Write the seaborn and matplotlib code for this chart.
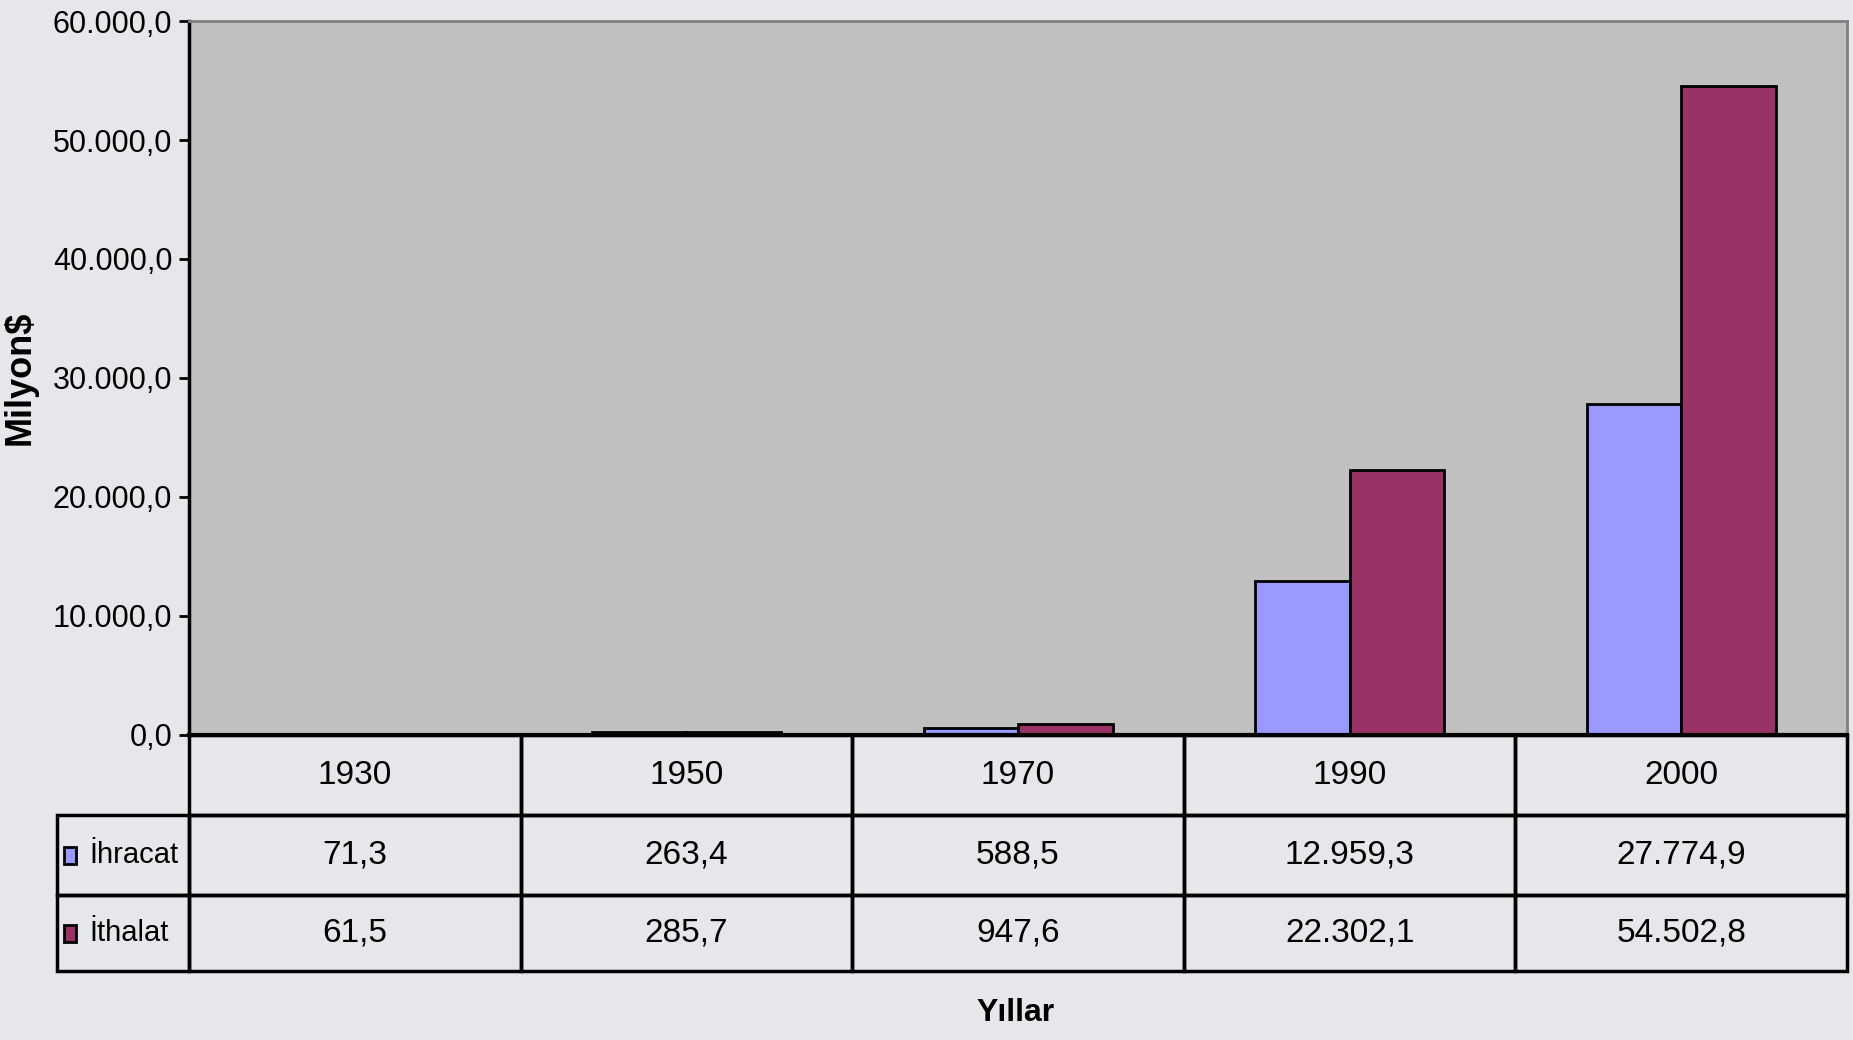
import pandas as pd
import seaborn as sns
import matplotlib.pyplot as plt
from matplotlib.table import Table
from matplotlib.patches import Rectangle
from matplotlib.ticker import FuncFormatter

years = ['1930', '1950', '1970', '1990', '2000']
series = ['İhracat', 'İthalat']
ihracat = [71.3, 263.4, 588.5, 12959.3, 27774.9]
ithalat = [61.5, 285.7, 947.6, 22302.1, 54502.8]
colors = ['#9999ff', '#993366']

df = pd.DataFrame({
    'Yıl': years * 2,
    'Seri': [series[0]] * len(years) + [series[1]] * len(years),
    'Değer': ihracat + ithalat,
})


def tr_fmt(v, pos=None):
    s = f'{v:,.1f}'
    return s.replace(',', 'X').replace('.', ',').replace('X', '.')


sns.set_style('white')
plt.rcParams['font.family'] = ['Liberation Sans', 'DejaVu Sans']
plt.rcParams['text.color'] = 'black'
plt.rcParams['ytick.color'] = 'black'

fig = plt.figure(figsize=(18.53, 10.40), dpi=100, facecolor='#e6e7ea')
ax = fig.add_axes([0.102, 0.2933, 0.8948, 0.6865])
ax.set_facecolor('#c0c0c0')

sns.barplot(data=df, x='Yıl', y='Değer', hue='Seri', order=years, hue_order=series,
            palette=colors, width=0.57, edgecolor='black', linewidth=2,
            saturation=1, legend=False, ax=ax)

ax.set_ylim(0, 60000)
ax.set_xlim(-0.5, len(years) - 0.5)
ax.set_yticks(range(0, 60001, 10000))
ax.yaxis.set_major_formatter(FuncFormatter(tr_fmt))
ax.tick_params(axis='y', direction='out', length=7, width=2, labelsize=22, pad=5, left=True,
               labelcolor='black')
ax.tick_params(axis='x', bottom=False, labelbottom=False)
ax.set_xlabel('')
ax.set_ylabel('Milyon$', fontsize=26, fontweight='bold', color='black')
ax.yaxis.set_label_coords(-0.091, 0.5)

for side in ['top', 'right']:
    ax.spines[side].set_color('#808080')
    ax.spines[side].set_linewidth(2)
ax.spines['left'].set_color('black')
ax.spines['left'].set_linewidth(2.5)
ax.spines['bottom'].set_color('black')
ax.spines['bottom'].set_linewidth(3)

# data table below the axis: column 0 holds the series names
label_w = 132 / 1658
col_w = 1.0 / len(years)
tbl_h = 0.3305
row_hs = [tbl_h * 68 / 200, tbl_h * 68 / 200, tbl_h * 64 / 200]
tbl = Table(ax, bbox=[-label_w, -tbl_h, 1 + label_w, tbl_h])
tbl.add_cell(0, 0, width=label_w, height=row_hs[0], text='', facecolor='none')
tbl[0, 0].visible_edges = ''
for j, y in enumerate(years):
    tbl.add_cell(0, j + 1, width=col_w, height=row_hs[0], text=y, loc='center', facecolor='none')
for i, vals in enumerate([ihracat, ithalat]):
    tbl.add_cell(i + 1, 0, width=label_w, height=row_hs[i + 1], text='', facecolor='none')
    for j, v in enumerate(vals):
        tbl.add_cell(i + 1, j + 1, width=col_w, height=row_hs[i + 1], text=tr_fmt(v),
                     loc='center', facecolor='none')
tbl.auto_set_font_size(False)
for cell in tbl.get_celld().values():
    cell.set_linewidth(2.5)
    cell.set_edgecolor('black')
    cell.get_text().set_fontsize(24)
    cell.get_text().set_color('black')
ax.add_table(tbl)

y_top = -row_hs[0]
for i, (name, col) in enumerate(zip(series, colors)):
    yc = y_top - row_hs[i + 1] / 2
    y_top -= row_hs[i + 1]
    ax.add_patch(Rectangle((-label_w + 0.004, yc - 0.012), 0.0075, 0.024, transform=ax.transAxes,
                           facecolor=col, edgecolor='black', linewidth=2, clip_on=False))
    ax.text(-label_w + 0.0195, yc, name, transform=ax.transAxes, fontsize=21,
            ha='left', va='center')

fig.text(0.548, 0.026, 'Yıllar', fontsize=23, fontweight='bold', ha='center', va='center')

fig.savefig('out.png', dpi=100, facecolor=fig.get_facecolor())
plt.close(fig)
